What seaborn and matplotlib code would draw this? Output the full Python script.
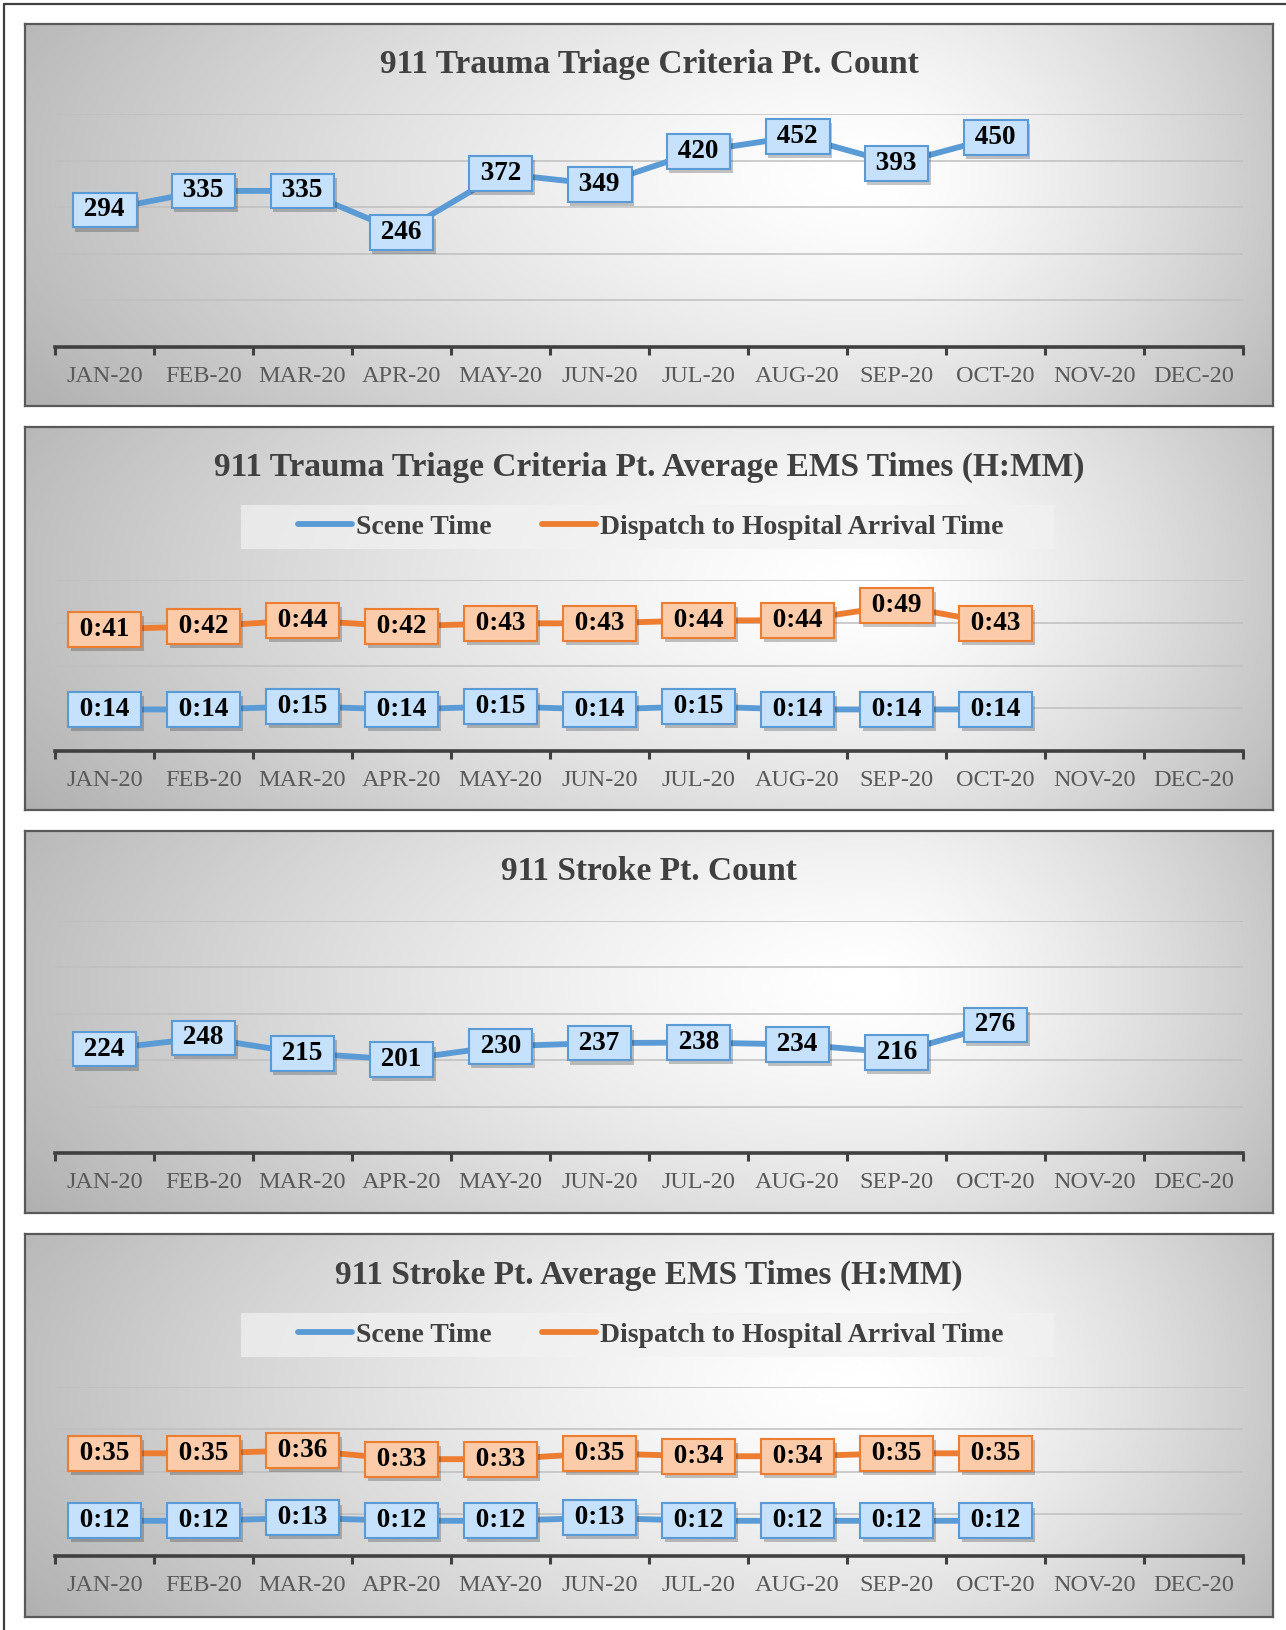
import numpy as np
import pandas as pd
import matplotlib
matplotlib.use('Agg')
import matplotlib.pyplot as plt
import matplotlib.patheffects as pe
from matplotlib.patches import Rectangle
from matplotlib.lines import Line2D
import seaborn as sns

# dados
months = ['JAN-20', 'FEB-20', 'MAR-20', 'APR-20', 'MAY-20', 'JUN-20',
          'JUL-20', 'AUG-20', 'SEP-20', 'OCT-20', 'NOV-20', 'DEC-20']
trauma_count = [294, 335, 335, 246, 372, 349, 420, 452, 393, 450]
trauma_scene = ['0:14', '0:14', '0:15', '0:14', '0:15', '0:14', '0:15', '0:14', '0:14', '0:14']
trauma_transport = ['0:41', '0:42', '0:44', '0:42', '0:43', '0:43', '0:44', '0:44', '0:49', '0:43']
stroke_count = [224, 248, 215, 201, 230, 237, 238, 234, 216, 276]
stroke_scene = ['0:12', '0:12', '0:13', '0:12', '0:12', '0:13', '0:12', '0:12', '0:12', '0:12']
stroke_transport = ['0:35', '0:35', '0:36', '0:33', '0:33', '0:35', '0:34', '0:34', '0:35', '0:35']

titles = ['911 Trauma Triage Criteria Pt. Count',
          '911 Trauma Triage Criteria Pt. Average EMS Times (H:MM)',
          '911 Stroke Pt. Count',
          '911 Stroke Pt. Average EMS Times (H:MM)']
series_names = ['Scene Time', 'Dispatch to Hospital Arrival Time']

BLUE = '#5b9bd5'
ORANGE = '#ed7d31'

sns.set_theme(style='white')
plt.rcParams['font.family'] = ['Liberation Serif', 'DejaVu Serif']

W, H = 1286, 1630
fig = plt.figure(figsize=(W / 100, H / 100), dpi=100)
fig.patch.set_facecolor('white')


def to_min(s):
    h, m = s.split(':')
    return int(h) * 60 + int(m)


def fig_rect(x0, y0, x1, y1):
    return [x0 / W, 1 - y1 / H, (x1 - x0) / W, (y1 - y0) / H]


# gradiente de fundo (cinza nas bordas, branco perto do centro-direita)
gx, gy = np.meshgrid(np.linspace(0, 1, 400), np.linspace(1, 0, 150))
sx = np.where(gx < 0.68, 0.68, 0.36)
d = np.sqrt(((gx - 0.68) / sx) ** 2 + ((gy - 0.6) / 1.0) ** 2)
grad = 1 - 0.25 * np.clip(d, 0, 1.3) ** 1.4

# moldura externa (só topo e esquerda ficam visíveis)
fig.add_artist(Line2D([4 / W, 4 / W], [0, 1 - 4 / H], transform=fig.transFigure, color='#404040', lw=1.6))
fig.add_artist(Line2D([4 / W, 1], [1 - 4 / H, 1 - 4 / H], transform=fig.transFigure, color='#404040', lw=1.6))

panels = [
    dict(box=(25, 24, 1273, 406), plot=(114, 347), title_y=64, top=500, step=100,
         series=[(trauma_count, BLUE, '#c6e1fb', None)], kind='count'),
    dict(box=(25, 427, 1273, 810), plot=(580, 751), title_y=467, top=57.6, step=14.4,
         series=[(trauma_scene, BLUE, '#c6e1fb', series_names[0]),
                 (trauma_transport, ORANGE, '#fcccaa', series_names[1])], kind='time', legend_y=527),
    dict(box=(25, 831, 1273, 1213), plot=(921, 1153), title_y=872, top=500, step=100,
         series=[(stroke_count, BLUE, '#c6e1fb', None)], kind='count'),
    dict(box=(25, 1234, 1273, 1617), plot=(1387, 1556), title_y=1275, top=57.6, step=14.4,
         series=[(stroke_scene, BLUE, '#c6e1fb', series_names[0]),
                 (stroke_transport, ORANGE, '#fcccaa', series_names[1])], kind='time', legend_y=1335),
]

for p, title in zip(panels, titles):
    x0, y0, x1, y1 = p['box']
    bg = fig.add_axes(fig_rect(x0, y0, x1, y1), zorder=0)
    bg.imshow(grad, cmap='gray', vmin=0, vmax=1, extent=[0, 1, 0, 1], aspect='auto', interpolation='bicubic')
    bg.set_xlim(0, 1)
    bg.set_ylim(0, 1)
    bg.set_xticks([])
    bg.set_yticks([])
    for s in bg.spines.values():
        s.set_color('#595959')
        s.set_linewidth(1.6)

    fig.text((x0 + x1) / 2 / W, 1 - p['title_y'] / H, title, ha='center', va='center',
             fontsize=24, fontweight='bold', color='#404040')

    pt, pb = p['plot']
    ax = fig.add_axes(fig_rect(55, pt, 1243, pb), zorder=1)
    ax.set_facecolor('none')

    for vals, color, fill, name in p['series']:
        if p['kind'] == 'time':
            y = [to_min(v) for v in vals]
            labels = vals
        else:
            y = vals
            labels = [str(v) for v in vals]
        df = pd.DataFrame({'x': range(len(y)), 'y': y})
        sns.lineplot(data=df, x='x', y='y', ax=ax, color=color, lw=4.2,
                     label=name, legend=False, solid_capstyle='round')
        for xi, yi, lab in zip(df['x'], df['y'], labels):
            t = ax.text(xi, yi, f' {lab} ', ha='center', va='center', fontsize=19.5,
                        fontweight='bold', color='black', zorder=5,
                        bbox=dict(boxstyle='square,pad=0.18', fc=fill, ec=color, lw=1.5))
            t.get_bbox_patch().set_path_effects(
                [pe.withSimplePatchShadow(offset=(2, -3), shadow_rgbFace='k', alpha=0.25)])

    ax.set_xlim(-0.5, 11.5)
    ax.set_ylim(0, p['top'])
    ax.set_yticks(np.arange(1, 5) * p['step'] if p['kind'] == 'time' else np.arange(100, 501, 100))
    ax.set_yticklabels([])
    ax.tick_params(axis='y', length=0)
    ax.yaxis.grid(True, color='#bfbfbf', lw=1.1)
    ax.xaxis.grid(False)
    ax.set_xticks(range(12))
    ax.set_xticklabels(months, fontsize=17.5, color='#595959')
    ax.set_xticks(np.arange(-0.5, 12, 1), minor=True)
    ax.tick_params(axis='x', which='major', length=0, pad=14)
    ax.tick_params(axis='x', which='minor', length=6, width=2.2, color='#404040', direction='out', bottom=True)
    ax.set_xlabel('')
    ax.set_ylabel('')
    for side in ['top', 'left', 'right']:
        ax.spines[side].set_visible(False)
    ax.spines['bottom'].set_color('#404040')
    ax.spines['bottom'].set_linewidth(2.6)

    if p['kind'] == 'time':
        ly = p['legend_y']
        bg.add_patch(Rectangle((241 / W, 1 - (ly + 22) / H), (1054 - 241) / W, 44 / H, transform=fig.transFigure,
                               fc='#f2f2f2', ec='none', alpha=0.7, zorder=3))
        handles = [Line2D([], [], color=BLUE, lw=4.2, solid_capstyle='round'),
                   Line2D([], [], color=ORANGE, lw=4.2, solid_capstyle='round')]
        leg = ax.legend(handles, series_names, loc='center', ncol=2, frameon=False,
                        bbox_to_anchor=(651 / W, 1 - ly / H), bbox_transform=fig.transFigure,
                        handlelength=1.95, handletextpad=0.15, columnspacing=1.8,
                        prop={'size': 20, 'weight': 'bold'})
        for txt in leg.get_texts():
            txt.set_color('#404040')

fig.savefig('out.png', dpi=100)
